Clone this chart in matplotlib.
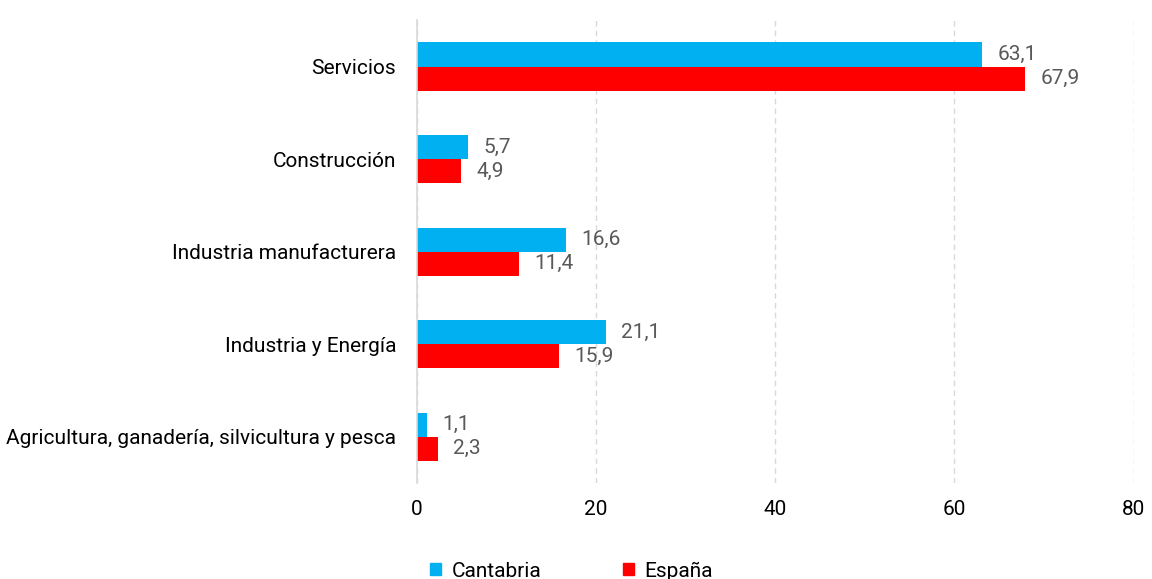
import numpy as np
import matplotlib.pyplot as plt
from matplotlib.patches import Patch

# data
categorias = ['Agricultura, ganadería, silvicultura y pesca', 'Industria y Energía',
              'Industria manufacturera', 'Construcción', 'Servicios']
cantabria = [1.1, 21.1, 16.6, 5.7, 63.1]
espana = [2.3, 15.9, 11.4, 4.9, 67.9]
series = ['Cantabria', 'España']

azul = '#00B0F0'
rojo = '#FF0000'
gris = '#595959'

plt.rcParams['font.family'] = ['Roboto', 'DejaVu Sans']

fig = plt.figure(figsize=(11.52, 5.79), dpi=100)
ax = fig.add_axes([0.362, 0.166, 0.622, 0.799])

y = np.arange(len(categorias))
h = 0.26
b1 = ax.barh(y + h/2, cantabria, height=h, color=azul)
b2 = ax.barh(y - h/2, espana, height=h, color=rojo)

for bars, vals in ((b1, cantabria), (b2, espana)):
    for bar, v in zip(bars, vals):
        ax.annotate(f'{v:.1f}'.replace('.', ','),
                    (bar.get_width(), bar.get_y() + bar.get_height()/2),
                    xytext=(11, 0), textcoords='offset points',
                    ha='left', va='center', fontsize=15, color=gris)

ax.set_xlim(0, 80)
ax.set_ylim(-0.5, len(categorias) - 0.5)
ax.set_xticks([0, 20, 40, 60, 80])
ax.set_yticks(y)
ax.set_yticklabels(categorias)
ax.tick_params(axis='both', length=0, labelsize=15, colors='black')
ax.tick_params(axis='x', pad=12)
ax.tick_params(axis='y', pad=15)

ax.grid(axis='x', color='#D9D9D9', linestyle=(0, (4, 3)), linewidth=1)
ax.set_axisbelow(True)
for s in ['top', 'right', 'bottom']:
    ax.spines[s].set_visible(False)
ax.spines['left'].set_color('#D9D9D9')
ax.spines['left'].set_linewidth(1.2)

handles = [Patch(color=azul), Patch(color=rojo)]
fig.legend(handles, series, loc='lower center', ncol=2, frameon=False,
           bbox_to_anchor=(0.496, -0.035), fontsize=15, handlelength=0.55,
           handleheight=0.55, columnspacing=3.9, handletextpad=0.5)

fig.savefig('out.png', dpi=100)
